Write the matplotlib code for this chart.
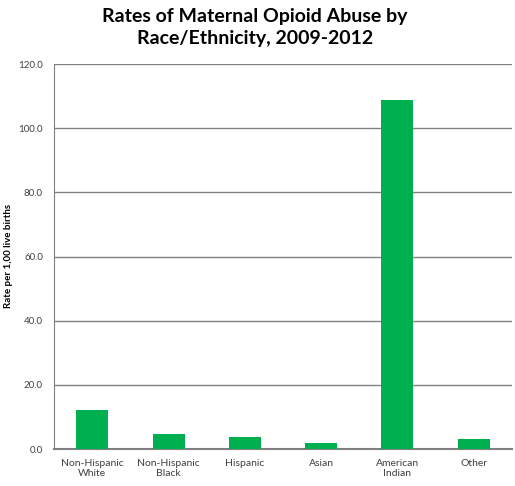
import numpy as np
import matplotlib.pyplot as plt

categories = ["Non-Hispanic\nWhite", "Non-Hispanic\nBlack", "Hispanic", "Asian", "American\nIndian", "Other"]
rates = [12.3, 4.8, 3.9, 1.9, 108.7, 3.0]
yticks = [0, 20, 40, 60, 80, 100, 120]

plt.rcParams['font.family'] = ['Lato', 'DejaVu Sans']

fig = plt.figure(figsize=(5.15, 4.86), dpi=100)
ax = fig.add_axes([0.105, 0.076, 0.889, 0.792])

x = np.arange(len(categories))
ax.bar(x, rates, width=0.42, color='#00B050', zorder=3)

ax.set_xlim(-0.5, len(categories) - 0.5)
ax.set_ylim(0, 120)
ax.set_yticks(yticks)
ax.set_yticklabels([f"{v:.1f}" for v in yticks], fontsize=7, color='#404040')
ax.set_xticks(x)
ax.set_xticklabels(categories, fontsize=7.5, color='#404040')
ax.tick_params(axis='y', length=0, pad=8)
ax.tick_params(axis='x', length=0, pad=7)
ax.yaxis.grid(True, color='#808080', linewidth=1, zorder=0)

for s in ['top', 'right']:
    ax.spines[s].set_visible(False)
ax.spines['left'].set_color('#808080')
ax.spines['bottom'].set_color('#808080')
ax.spines['bottom'].set_linewidth(1.5)

# y label sits near the left edge, as in the reference
fig.text(0.016, 0.473, "Rate per 1,00 live births", rotation=90, fontsize=7,
         fontweight='bold', ha='center', va='center')
fig.suptitle("Rates of Maternal Opioid Abuse by\nRace/Ethnicity, 2009-2012",
             fontsize=14, fontweight='bold', y=0.983, x=0.495, linespacing=1.35)

fig.savefig("out.png", dpi=100)
